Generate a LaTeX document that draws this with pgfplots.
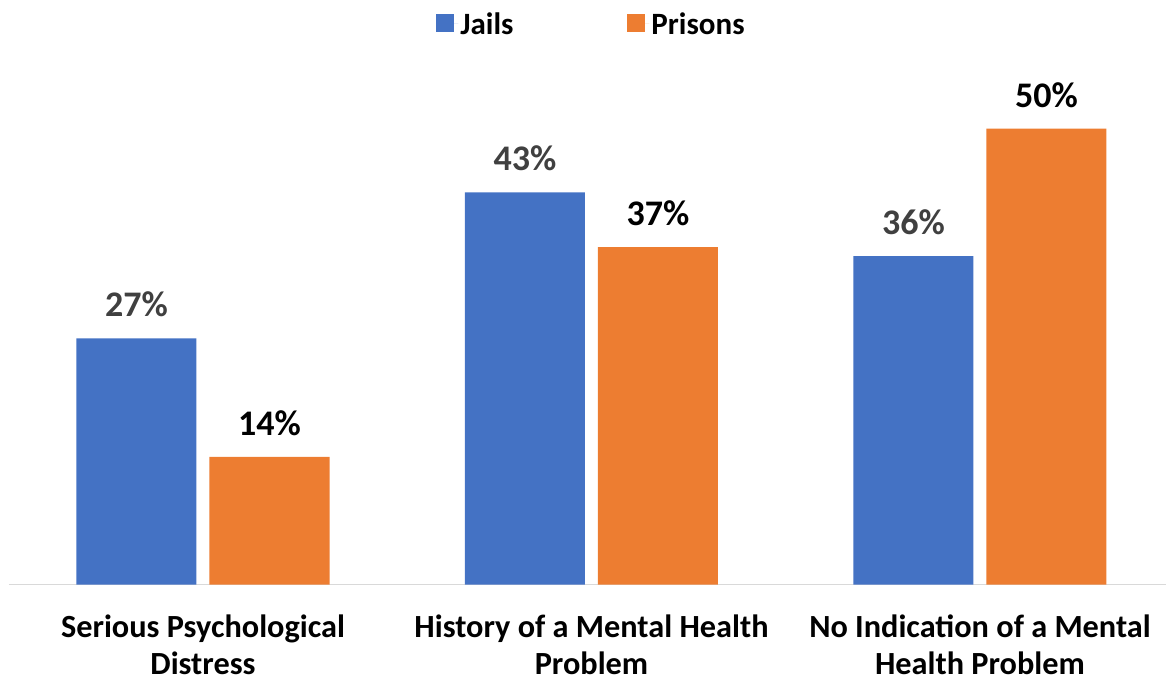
\documentclass[border=0pt]{standalone}
\usepackage{fontspec}
\setmainfont{Carlito}
\usepackage{pgfplots}
\pgfplotsset{compat=1.18}
\definecolor{cblue}{HTML}{4472C4}
\definecolor{corange}{HTML}{ED7D31}
\definecolor{lgray}{HTML}{404040}
\definecolor{axgray}{HTML}{D9D9D9}
\begin{document}
\begin{tikzpicture}
\begin{axis}[
  at={(0,0)}, anchor=south west,
  scale only axis,
  width=1165.5pt, height=501.6pt,
  xmin=-0.5, xmax=2.5, ymin=0, ymax=55,
  ybar=13pt, bar width=120pt,
  axis y line=none,
  axis x line*=bottom,
  x axis line style={axgray, line width=1.5pt, -},
  xtick={0,1,2}, major tick length=0pt,
  xticklabels={{Serious Psychological\\Distress},{History of a Mental Health\\Problem},{No Indication of a Mental\\Health Problem}},
  xticklabel style={font=\fontsize{32.3}{37}\selectfont\bfseries, align=center, text=black, anchor=north, yshift=-27pt},
  /pgf/number format/assume math mode=true,
  nodes near coords={\pgfmathprintnumber{\pgfplotspointmeta}\%},
  every node near coord/.append style={font=\fontsize{36}{40}\selectfont\bfseries, anchor=south, inner sep=0pt, yshift=21pt},
  legend style={at={(0.5,1)}, anchor=center, yshift=59pt, draw=none, fill=none,
    font=\fontsize{31}{35}\selectfont\bfseries, legend columns=2,
    /tikz/every even column/.append style={column sep=112pt}},
  legend image code/.code={\fill[#1] (0pt,-8pt) rectangle (18pt,10pt); \path (0pt,0pt) -- (22pt,0pt);},
]
\addplot[fill=cblue, draw=none, every node near coord/.append style={text=lgray}] coordinates {(0,27) (1,43) (2,36)};
\addplot[fill=corange, draw=none, every node near coord/.append style={text=black}] coordinates {(0,14) (1,37) (2,50)};
\legend{Jails, Prisons}
\end{axis}
\pgfresetboundingbox
\path (-8.75pt,-96.5pt) rectangle (1157.25pt,584.5pt);
\end{tikzpicture}
\end{document}
